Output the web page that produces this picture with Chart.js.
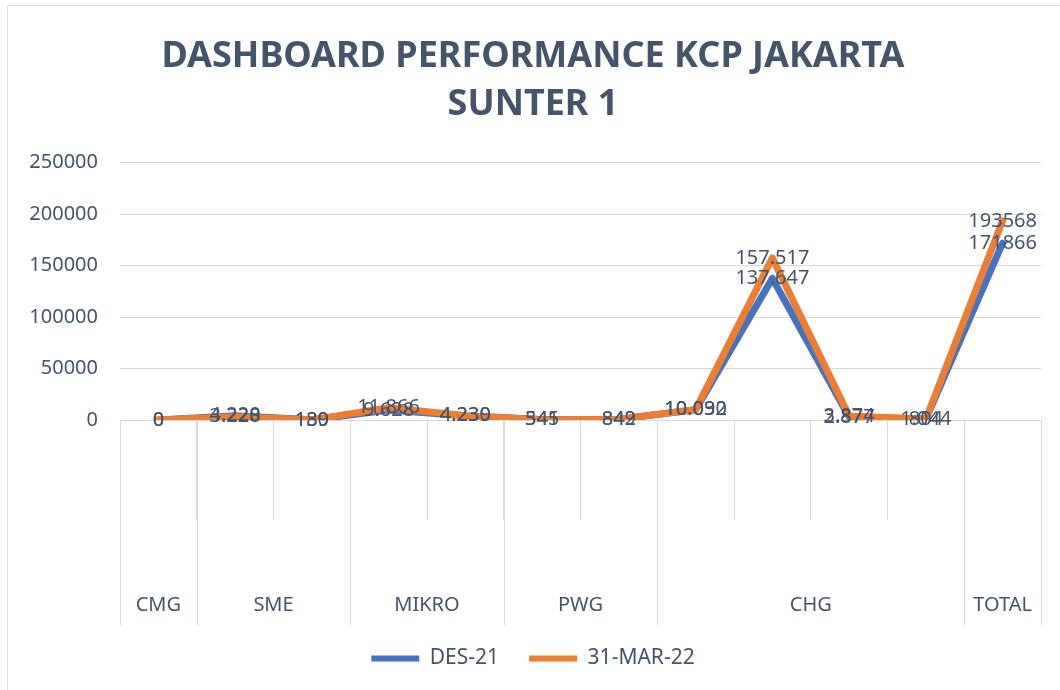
<!DOCTYPE html>
<html>
<head>
<meta charset="utf-8">
<script src="https://cdn.jsdelivr.net/npm/chart.js@4.4.1/dist/chart.umd.min.js"></script>
<style>
  html, body { margin: 0; padding: 0; background: #fff; }
  #frame { position: absolute; left: 7px; top: 5px; width: 1100px; height: 720px; border: 1px solid #dde1e8; }
  #wrap { position: absolute; left: 0; top: 0; width: 1060px; height: 690px; }
</style>
</head>
<body>
<div id="frame"></div>
<div id="wrap"><canvas id="chart" width="1060" height="690"></canvas></div>
<script>
// one entry per point, grouped on the axis by name
const categories = ['CMG', 'SME', 'SME', 'MIKRO', 'MIKRO', 'PWG', 'PWG', 'CHG', 'CHG', 'CHG', 'CHG', 'TOTAL'];
const groups = ['CMG', 'SME', 'MIKRO', 'PWG', 'CHG', 'TOTAL'];
const des21 = [0, 4220, 189, 9628, 4230, 545, 842, 10032, 137647, 2877, 1044, 171866];
const mar22 = [0, 3228, 130, 11866, 4239, 341, 849, 10090, 157517, 3874, 804, 193568];
const seriesNames = ['DES-21', '31-MAR-22'];
const yMax = 250000;
const yStep = 50000;
const plainLabelGroups = ['TOTAL']; // these labels have no thousands dot

const TEXT = '#44546a';
const GRID = '#d9d9d9';
const FONT = "'Noto Sans', sans-serif";

const fmt = (v, i) => plainLabelGroups.includes(categories[i])
  ? String(v)
  : String(v).replace(/\B(?=(\d{3})+(?!\d))/g, '.');

// value labels centred on each point
const pointLabels = {
  id: 'pointLabels',
  afterDatasetsDraw(chart) {
    const ctx = chart.ctx;
    ctx.save();
    ctx.font = `20px ${FONT}`;
    ctx.fillStyle = TEXT;
    ctx.textAlign = 'center';
    ctx.textBaseline = 'middle';
    chart.data.datasets.forEach((ds, di) => {
      chart.getDatasetMeta(di).data.forEach((pt, i) => {
        ctx.fillText(fmt(ds.data[i], i), pt.x, pt.y);
      });
    });
    ctx.restore();
  }
};

// outer level of the category axis: long separators + group names
const groupAxis = {
  id: 'groupAxis',
  afterDraw(chart) {
    const x = chart.scales.x, area = chart.chartArea, ctx = chart.ctx;
    const half = (x.getPixelForValue(1) - x.getPixelForValue(0)) / 2;
    const bottom = area.bottom + 205;
    ctx.save();
    ctx.strokeStyle = GRID;
    ctx.lineWidth = 1;
    ctx.font = `20px ${FONT}`;
    ctx.fillStyle = TEXT;
    ctx.textAlign = 'center';
    ctx.textBaseline = 'middle';
    groups.forEach(g => {
      const l = x.getPixelForValue(categories.indexOf(g)) - half;
      const r = x.getPixelForValue(categories.lastIndexOf(g)) + half;
      [l, r].forEach(px => {
        const p = Math.round(px) + 0.5;
        ctx.beginPath();
        ctx.moveTo(p, area.bottom);
        ctx.lineTo(p, bottom);
        ctx.stroke();
      });
      ctx.fillText(g, (l + r) / 2, bottom - 20);
    });
    ctx.restore();
  }
};

new Chart(document.getElementById('chart'), {
  type: 'line',
  data: {
    labels: categories,
    datasets: [
      {
        label: seriesNames[0],
        data: des21,
        borderColor: '#4472c4',
        backgroundColor: '#4472c4',
        borderWidth: 7, pointRadius: 0, tension: 0,
        borderJoinStyle: 'round', borderCapStyle: 'round',
        order: 2
      },
      {
        label: seriesNames[1],
        data: mar22,
        borderColor: '#ed7d31',
        backgroundColor: '#ed7d31',
        borderWidth: 7, pointRadius: 0, tension: 0,
        borderJoinStyle: 'round', borderCapStyle: 'round',
        order: 1
      }
    ]
  },
  plugins: [pointLabels, groupAxis],
  options: {
    responsive: false,
    animation: false,
    layout: { padding: { left: 25, right: 19, top: 0, bottom: 11 } },
    plugins: {
      title: {
        display: true,
        text: ['DASHBOARD PERFORMANCE KCP JAKARTA', 'SUNTER 1'],
        color: TEXT,
        font: { family: FONT, size: 36, weight: 'bold', lineHeight: 1.33 },
        padding: { top: 33, bottom: 34 }
      },
      legend: {
        position: 'bottom',
        labels: {
          color: TEXT, font: { family: FONT, size: 21 }, boxWidth: 48, boxHeight: 6, padding: 30,
          sort: (a, b) => a.datasetIndex - b.datasetIndex,
          generateLabels: chart => Chart.defaults.plugins.legend.labels.generateLabels(chart)
            .map(item => ({ ...item, lineWidth: 0 }))
        }
      },
      tooltip: { enabled: false }
    },
    scales: {
      x: {
        offset: true,
        grid: { offset: true, drawOnChartArea: false, drawTicks: true, tickLength: 100, color: GRID },
        border: { display: true, color: GRID },
        ticks: { display: false },
        afterFit(s) { s.height = 198; }
      },
      y: {
        min: 0, max: yMax,
        ticks: { stepSize: yStep, color: TEXT, font: { family: FONT, size: 20 }, padding: 22, callback: v => String(v) },
        grid: { color: GRID, drawTicks: false },
        border: { display: false },
        afterFit(s) { s.width = 95; }
      }
    }
  }
});
</script>
</body>
</html>
